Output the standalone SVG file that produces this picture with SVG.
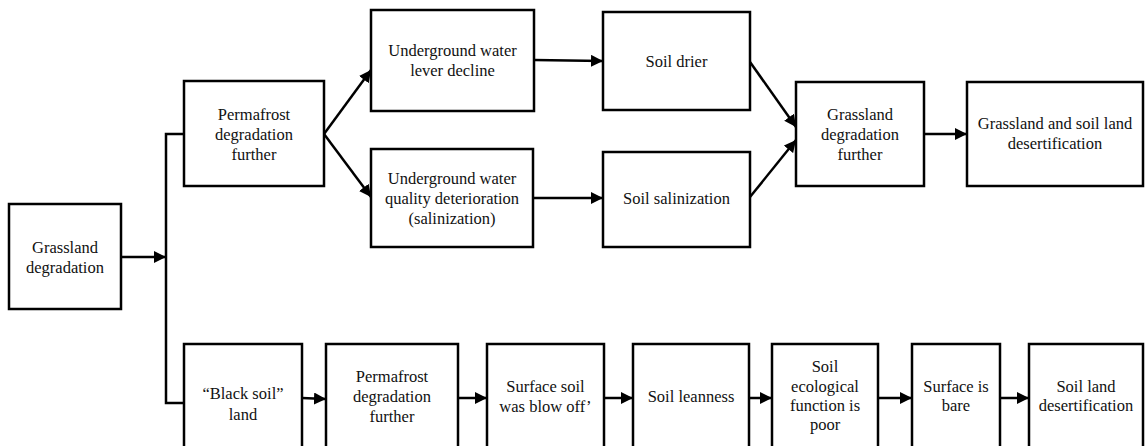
<svg xmlns="http://www.w3.org/2000/svg" width="1145" height="446" viewBox="0 0 1145 446">
<style>
.box{fill:#fff;stroke:#000;stroke-width:2.5}
.t{font-family:"Liberation Serif","Times New Roman",serif;font-size:16.5px;fill:#111;text-anchor:middle}
.c{fill:none;stroke:#000;stroke-width:2.5}
.a{marker-end:url(#ah)}
</style>
<defs>
<marker id="ah" markerUnits="userSpaceOnUse" markerWidth="13" markerHeight="13" refX="12" refY="6" orient="auto">
<path d="M0,0 L12,6 L0,12 Z" fill="#000"/>
</marker>
</defs>
<rect width="1145" height="446" fill="#fff"/>
<g id="connectors">
<line class="c a" x1="121" y1="257" x2="166" y2="257"/>
<polyline class="c" points="184,134 166,134 166,403 184,403"/>
<line class="c a" x1="324" y1="134" x2="371" y2="70"/>
<line class="c a" x1="324" y1="134" x2="371" y2="197"/>
<line class="c a" x1="534" y1="60" x2="603" y2="61"/>
<line class="c a" x1="533" y1="198" x2="603" y2="198"/>
<line class="c a" x1="750" y1="62" x2="796" y2="127"/>
<line class="c a" x1="750" y1="197" x2="796" y2="140"/>
<line class="c a" x1="924" y1="134" x2="967" y2="134"/>
<line class="c a" x1="302" y1="398" x2="326" y2="399"/>
<line class="c a" x1="458" y1="398" x2="487" y2="398"/>
<line class="c a" x1="604" y1="398" x2="633" y2="398"/>
<line class="c a" x1="749" y1="398" x2="772" y2="398"/>
<line class="c a" x1="878" y1="398" x2="912" y2="398"/>
<line class="c a" x1="1000" y1="398" x2="1029" y2="398"/>
</g>
<g id="n1"><rect class="box" x="9" y="204" width="112" height="105"/><text class="t" x="65" y="252.5">Grassland</text><text class="t" x="65" y="272.5">degradation</text></g>
<g id="n2"><rect class="box" x="184" y="81" width="140" height="105"/><text class="t" x="254" y="119.5">Permafrost</text><text class="t" x="254" y="139.5">degradation</text><text class="t" x="254" y="159.5">further</text></g>
<g id="n3"><rect class="box" x="371" y="10" width="163" height="101"/><text class="t" x="452.5" y="56">Underground water</text><text class="t" x="452.5" y="76">lever decline</text></g>
<g id="n4"><rect class="box" x="371" y="149" width="162" height="98"/><text class="t" x="452" y="184">Underground water</text><text class="t" x="452" y="204">quality deterioration</text><text class="t" x="452" y="224">(salinization)</text></g>
<g id="n5"><rect class="box" x="603" y="12" width="147" height="98"/><text class="t" x="676.5" y="66.5">Soil drier</text></g>
<g id="n6"><rect class="box" x="603" y="152" width="147" height="95"/><text class="t" x="676.5" y="204">Soil salinization</text></g>
<g id="n7"><rect class="box" x="796" y="82" width="128" height="104"/><text class="t" x="860" y="119.5">Grassland</text><text class="t" x="860" y="139.5">degradation</text><text class="t" x="860" y="159.5">further</text></g>
<g id="n8"><rect class="box" x="967" y="82" width="176" height="104"/><text class="t" x="1055" y="128.5">Grassland and soil land</text><text class="t" x="1055" y="148.5">desertification</text></g>
<g id="b1"><rect class="box" x="184" y="344" width="118" height="120"/><text class="t" x="243" y="399">“Black soil”</text><text class="t" x="243" y="420">land</text></g>
<g id="b2"><rect class="box" x="326" y="344" width="132" height="120"/><text class="t" x="392" y="382">Permafrost</text><text class="t" x="392" y="402">degradation</text><text class="t" x="392" y="422">further</text></g>
<g id="b3"><rect class="box" x="487" y="344" width="117" height="120"/><text class="t" x="545.5" y="392">Surface soil</text><text class="t" x="545.5" y="412">was blow off’</text></g>
<g id="b4"><rect class="box" x="633" y="344" width="116" height="120"/><text class="t" x="691" y="402">Soil leanness</text></g>
<g id="b5"><rect class="box" x="772" y="344" width="106" height="120"/><text class="t" x="825" y="372">Soil</text><text class="t" x="825" y="392">ecological</text><text class="t" x="825" y="411">function is</text><text class="t" x="825" y="430">poor</text></g>
<g id="b6"><rect class="box" x="912" y="344" width="88" height="120"/><text class="t" x="956" y="392">Surface is</text><text class="t" x="956" y="411">bare</text></g>
<g id="b7"><rect class="box" x="1029" y="344" width="114" height="120"/><text class="t" x="1086" y="392">Soil land</text><text class="t" x="1086" y="411">desertification</text></g>
</svg>
